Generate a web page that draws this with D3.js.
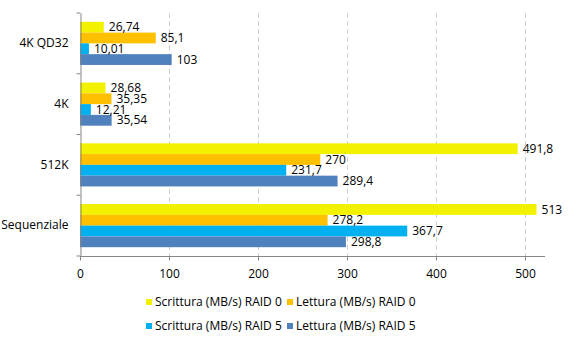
<!DOCTYPE html>
<html><head><meta charset="utf-8">
<script src="https://cdn.jsdelivr.net/npm/d3@7"></script>
<style>body{margin:0;background:#fff}svg{display:block}text{font-family:"Open Sans","Liberation Sans",sans-serif;fill:#000}</style>
</head><body><svg id="c" width="568" height="343"></svg>
<script>
const categories = ["4K QD32", "4K", "512K", "Sequenziale"];
const seriesNames = ["Scrittura (MB/s) RAID 0", "Lettura (MB/s) RAID 0", "Scrittura (MB/s) RAID 5", "Lettura (MB/s) RAID 5"];
const scritturaRaid0 = [26.74, 28.68, 491.8, 513];
const letturaRaid0 = [85.1, 35.35, 270, 278.2];
const scritturaRaid5 = [10.01, 12.21, 231.7, 367.7];
const letturaRaid5 = [103, 35.54, 289.4, 298.8];
const xTicks = [0, 100, 200, 300, 400, 500];
const colors = ["#F2F200", "#FFC000", "#00B0F0", "#4F81BD"];
const series = [scritturaRaid0, letturaRaid0, scritturaRaid5, letturaRaid5];

const svg = d3.select("#c");
const L = 80, R = 545, T = 13, B = 256;
const x = d3.scaleLinear().domain([0, 522.5]).range([L, R]);
const y = d3.scaleBand().domain(categories).range([T, B]).padding(0);
const bw = y.bandwidth();
const inner = d3.scaleBand().domain(d3.range(4)).range([bw * 0.145, bw * 0.855]).padding(0);
const fmt = v => String(v).replace(".", ",");

// grid
svg.append("g").selectAll("line").data(xTicks.filter(t => t > 0)).join("line")
  .attr("x1", d => x(d) + 0.5).attr("x2", d => x(d) + 0.5)
  .attr("y1", T).attr("y2", B)
  .attr("stroke", "#d0d0d0").attr("stroke-dasharray", "5,3");

// bars
const g = svg.append("g");
categories.forEach((c, ci) => {
  series.forEach((s, si) => {
    const y0 = y(c) + inner(si);
    g.append("rect").attr("x", x(0)).attr("y", y0)
      .attr("width", x(s[ci]) - x(0)).attr("height", inner.bandwidth())
      .attr("fill", colors[si]);
  });
});
categories.forEach((c, ci) => {
  series.forEach((s, si) => {
    const y0 = y(c) + inner(si);
    g.append("text").attr("x", x(s[ci]) + 5).attr("y", y0 + inner.bandwidth() / 2)
      .attr("dy", "0.35em").attr("font-size", 12).text(fmt(s[ci]));
  });
});

// axes
const xa = svg.append("g").attr("transform", `translate(0,${B + 0.5})`)
  .call(d3.axisBottom(x).tickValues(xTicks).tickSize(4).tickPadding(9).tickFormat(d => d));
xa.select(".domain").attr("stroke", "#868686").attr("d", `M${L},0H${R}`);
xa.selectAll(".tick line").attr("stroke", "#868686");
xa.selectAll("text").attr("font-size", 12).attr("font-family", '"Open Sans","Liberation Sans",sans-serif');

const ya = svg.append("g").attr("transform", `translate(${L + 0.5},0)`)
  .call(d3.axisLeft(y).tickSize(0).tickPadding(12));
ya.select(".domain").attr("stroke", "#868686");
ya.selectAll("text").attr("font-size", 12).attr("font-family", '"Open Sans","Liberation Sans",sans-serif');
ya.append("g").selectAll("line").data(d3.range(categories.length + 1)).join("line")
  .attr("x1", -4).attr("x2", 0)
  .attr("y1", i => T + i * bw).attr("y2", i => T + i * bw)
  .attr("stroke", "#868686");

// legend
const legPos = [[146, 302], [287, 302], [146, 326], [287, 326]];
seriesNames.forEach((n, i) => {
  const [lx, ly] = legPos[i];
  svg.append("rect").attr("x", lx).attr("y", ly - 3).attr("width", 6).attr("height", 6).attr("fill", colors[i]);
  svg.append("text").attr("x", lx + 9).attr("y", ly).attr("dy", "0.35em").attr("font-size", 12).text(n);
});
</script></body></html>
